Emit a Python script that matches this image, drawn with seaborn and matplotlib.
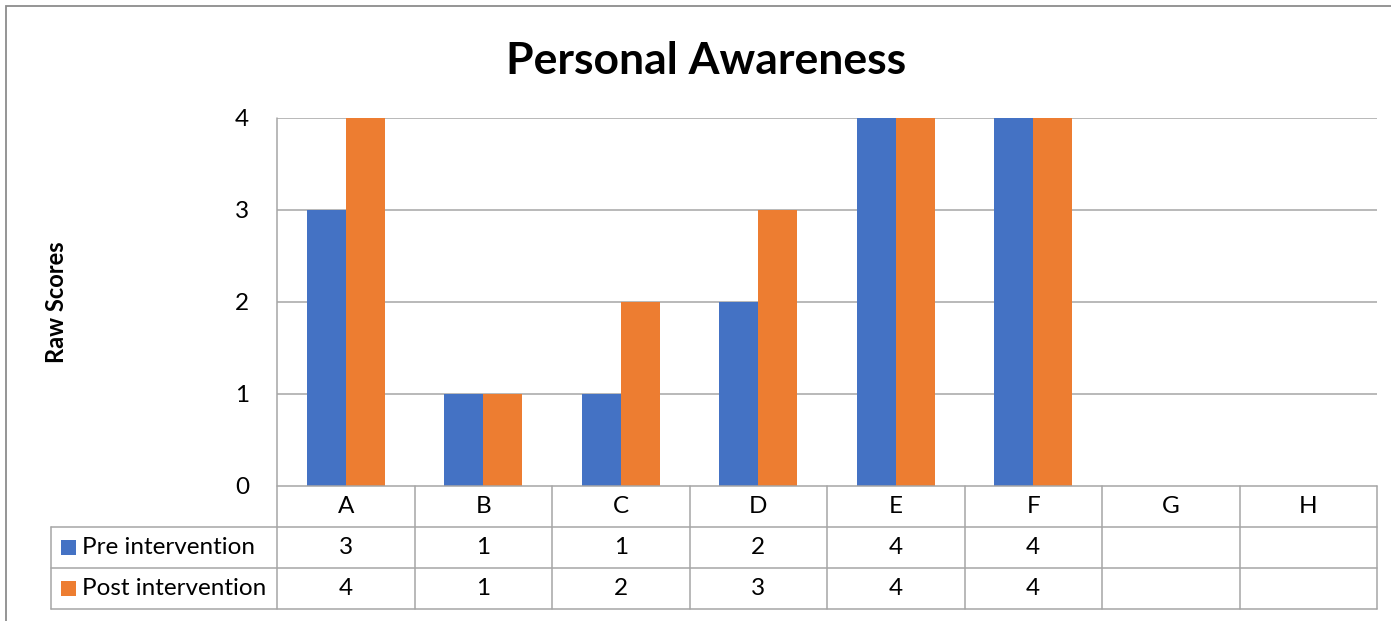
import numpy as np
import pandas as pd
import seaborn as sns
import matplotlib.pyplot as plt
from matplotlib.patches import Rectangle
from matplotlib.transforms import blended_transform_factory

# --- data ---
categories = ["A", "B", "C", "D", "E", "F", "G", "H"]
series_names = ["Pre intervention", "Post intervention"]
pre_scores = [3, 1, 1, 2, 4, 4, None, None]
post_scores = [4, 1, 2, 3, 4, 4, None, None]
y_ticks = [0, 1, 2, 3, 4]
title = "Personal Awareness"
y_label = "Raw Scores"

colors = ["#4472C4", "#ED7D31"]
grid_color = "#A6A6A6"
text_color = "#000000"
fs = 17.5

sns.set_style("white")
plt.rcParams["font.family"] = ["Lato", "DejaVu Sans"]

rows = []
for name, vals in zip(series_names, [pre_scores, post_scores]):
    for c, v in zip(categories, vals):
        if v is not None:
            rows.append({"category": c, "series": name, "score": v})
df = pd.DataFrame(rows)

W, H = 1391, 621
fig = plt.figure(figsize=(W / 100, H / 100), dpi=100)
ax = fig.add_axes([277 / W, 1 - 486 / H, 1100 / W, 368 / H])

sns.barplot(data=df, x="category", y="score", hue="series",
            order=categories, hue_order=series_names, palette=colors,
            width=0.57, gap=0, errorbar=None, legend=False,
            saturation=1, linewidth=0, ax=ax, zorder=3)

ax.set_xlim(-0.5, len(categories) - 0.5)
ax.set_ylim(0, 4)
ax.set_yticks(y_ticks)
ax.set_yticklabels([str(t) for t in y_ticks], fontsize=fs, color=text_color)
ax.tick_params(axis="y", length=0, pad=20)
ax.set_xticks([])
ax.set_xlabel("")
ax.set_ylabel("")
for s in ax.spines.values():
    s.set_visible(False)
for t in y_ticks[1:]:
    ax.axhline(t, color=grid_color, lw=1.1, zorder=1)

# data table beneath the plot
tr = blended_transform_factory(ax.transData, ax.transAxes)
row_h = 41 / 368
y_rows = [0, -row_h, -2 * row_h, -3 * row_h]
x_lo, x_hi = -0.5, len(categories) - 0.5
label_left = -0.5 - 226 / 137.5
line_kw = dict(color=grid_color, lw=1.1, clip_on=False, transform=tr, zorder=4)

ax.plot([x_lo, x_hi], [0, 0], **line_kw)
for y in y_rows[1:]:
    ax.plot([label_left, x_hi], [y, y], **line_kw)
ax.plot([x_lo, x_lo], [1, y_rows[-1]], **line_kw)
for i in range(1, len(categories) + 1):
    ax.plot([i - 0.5, i - 0.5], [0, y_rows[-1]], **line_kw)
ax.plot([label_left, label_left], [y_rows[1], y_rows[-1]], **line_kw)

for i, c in enumerate(categories):
    ax.text(i, -row_h / 2, c, transform=tr, ha="center", va="center",
            fontsize=fs, color=text_color)

for r, (name, vals, col) in enumerate(zip(series_names, [pre_scores, post_scores], colors)):
    yc = y_rows[r + 1] - row_h / 2
    for i, v in enumerate(vals):
        if v is not None:
            ax.text(i, yc, str(v), transform=tr, ha="center", va="center",
                    fontsize=fs, color=text_color)
    sq = 15 / 137.5
    ax.add_patch(Rectangle((label_left + 10 / 137.5, yc - (15 / 368) / 2), sq, 15 / 368,
                           transform=tr, color=col, clip_on=False, lw=0))
    ax.text(label_left + 31 / 137.5, yc, name, transform=tr, ha="left", va="center",
            fontsize=fs, color=text_color)

fig.text(706 / W, 1 - 61 / H, title, ha="center", va="center",
         fontsize=32, fontweight="bold", color=text_color)
fig.text(57 / W, 1 - 302 / H, y_label, ha="center", va="center", rotation=90,
         fontsize=17, fontweight="bold", color=text_color)

# chart frame
fig.add_artist(Rectangle((6 / W, -0.1), 1.2, 1 - 6 / H + 0.1, transform=fig.transFigure,
                         fill=False, edgecolor="#8C8C8C", lw=1.3))

fig.savefig("out.png", dpi=100)
